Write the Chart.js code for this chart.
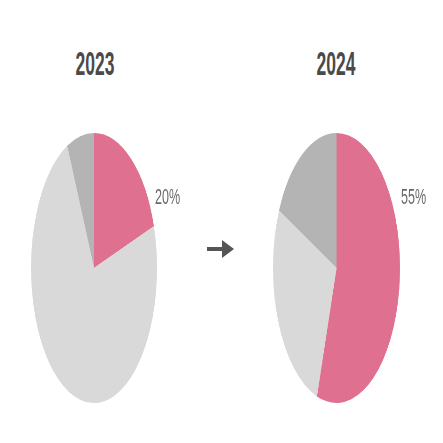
<!DOCTYPE html>
<html>
<head>
<meta charset="utf-8">
<script src="https://cdn.jsdelivr.net/npm/chart.js@4.4.1/dist/chart.umd.min.js"></script>
<style>
  body { margin: 0; background: #fff; width: 443px; height: 443px; position: relative; overflow: hidden; }
  .pie { position: absolute; top: 133px; width: 126px; height: 270px; }
  .year { position: absolute; font-family: "Liberation Sans", sans-serif; font-size: 33px; font-weight: bold; line-height: 1; color: #4a4a4a; transform: scaleX(0.53); transform-origin: center; width: 100px; text-align: center; }
  .pct { position: absolute; font-family: "Liberation Sans", sans-serif; font-size: 22px; line-height: 1; color: #6a6a6a; transform: scaleX(0.57); transform-origin: left; }
</style>
</head>
<body>
<div class="year" id="t1" style="left:45px; top:47px;"></div>
<div class="year" id="t2" style="left:286px; top:47px;"></div>
<canvas class="pie" id="pie1" width="270" height="270" style="left:31px; width:126px; height:270px;"></canvas>
<canvas class="pie" id="pie2" width="270" height="270" style="left:273px; width:127px; height:270px;"></canvas>
<div class="pct" id="p1" style="left:155px; top:186px;"></div>
<div class="pct" id="p2" style="left:401px; top:186px;"></div>
<svg style="position:absolute; left:205px; top:238px;" width="32" height="22">
  <line x1="2" y1="11" x2="19" y2="11" stroke="#555" stroke-width="4"/>
  <polygon points="17,2 29,11 17,20" fill="#555"/>
</svg>
<script>
var years = ["2023", "2024"];
var segments = ["Pink", "Light", "Dark"];
var values2023 = [20, 73, 7];
var values2024 = [55, 27, 18];
var labels = ["20%", "55%"];
var colors = ["#E0708F", "#D9D9D9", "#B4B4B4"];

document.getElementById("t1").textContent = years[0];
document.getElementById("t2").textContent = years[1];
document.getElementById("p1").textContent = labels[0];
document.getElementById("p2").textContent = labels[1];

function makePie(id, values) {
    return new Chart(document.getElementById(id), {
        type: 'pie',
        data: {
            labels: segments,
            datasets: [
                {
                    data: values,
                    backgroundColor: colors,
                    borderWidth: 0
                }
            ]
        },
        options: {
            responsive: false,
            animation: false,
            devicePixelRatio: 1,
            plugins: {
                legend: { display: false },
                tooltip: { enabled: false }
            }
        }
    });
}

makePie("pie1", values2023);
makePie("pie2", values2024);
</script>
</body>
</html>
